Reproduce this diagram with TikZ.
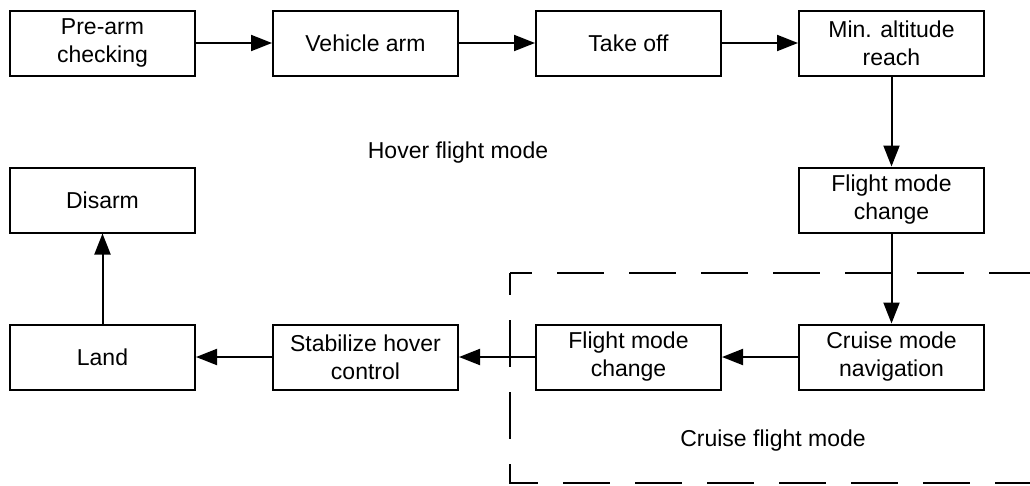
\documentclass[tikz,border=0pt]{standalone}
\usepackage{fontspec}
\setmainfont{Liberation Sans}
\usetikzlibrary{arrows.meta}
\begin{document}
\begin{tikzpicture}[x=1pt,y=1pt,
  box/.style={draw, line width=2pt, minimum width=185pt, minimum height=65pt,
    inner sep=0pt, align=center, font=\fontsize{23}{28}\selectfont},
  arr/.style={-{Triangle[length=21pt,width=16pt]}, line width=2pt},
  lbl/.style={font=\fontsize{23}{28}\selectfont}]
\useasboundingbox (0,0) rectangle (1030,-485);

% top row
\node[box] (prearm) at (102.5,-43) {Pre-arm\\checking};
\node[box] (arm) at (365.5,-43) {Vehicle arm};
\node[box] (takeoff) at (628.5,-43) {Take off};
\node[box] (minalt) at (891.5,-43) {Min. altitude\\reach};

% middle row
\node[box] (disarm) at (102.5,-200) {Disarm};
\node[box] (fmc1) at (891.5,-200) {Flight mode\\change};

% bottom row
\node[box] (land) at (102.5,-357) {Land};
\node[box] (stab) at (365.5,-357) {Stabilize hover\\control};
\node[box] (fmc2) at (628.5,-357) {Flight mode\\change};
\node[box] (cruise) at (891.5,-357) {Cruise mode\\navigation};

% mode labels
\node[lbl] (hover) at (458,-153) {Hover flight mode};
\node[lbl] (cruisemode) at (773,-441) {Cruise flight mode};

% cruise region (runs off the right edge)
\coordinate (tl) at (510,-273);
\coordinate (tr) at (1060,-273);
\coordinate (bl) at (510,-483);
\coordinate (br) at (1060,-483);
\draw[line width=2pt, dash pattern=on 47pt off 25pt, dash phase=25pt] (tl) -- (tr);
\draw[line width=2pt, dash pattern=on 47pt off 25pt, dash phase=25pt] (tl) -- (bl) -- (br);

% flow
\draw[arr] (prearm) -- (arm);
\draw[arr] (arm) -- (takeoff);
\draw[arr] (takeoff) -- (minalt);
\draw[arr] (minalt) -- (fmc1);
\draw[arr] (fmc1) -- (cruise);
\draw[arr] (cruise) -- (fmc2);
\draw[arr] (fmc2) -- (stab);
\draw[arr] (stab) -- (land);
\draw[arr] (land) -- (disarm);

\end{tikzpicture}
\end{document}
